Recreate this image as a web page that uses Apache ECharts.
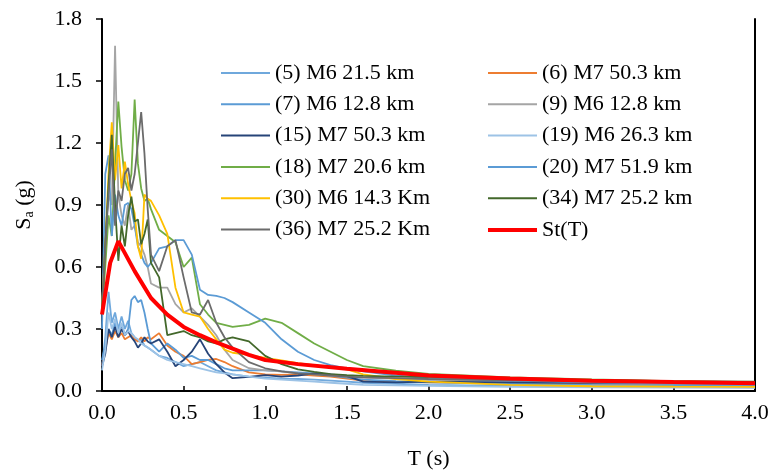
<!DOCTYPE html>
<html>
<head>
<meta charset="utf-8">
<script src="https://cdn.jsdelivr.net/npm/echarts@6/dist/echarts.min.js"></script>
<style>html,body{margin:0;padding:0;background:#fff}#c{width:774px;height:473px}</style>
</head>
<body>
<div id="c"></div>
<script>
const periods = [0.00,0.02,0.04,0.06,0.08,0.10,0.12,0.14,0.16,0.18,0.20,0.22,0.24,0.26,0.28,0.30,0.35,0.40,0.45,0.50,0.55,0.60,0.65,0.70,0.75,0.80,0.90,1.00,1.10,1.20,1.30,1.40,1.50,1.60,1.80,2.00,2.50,3.00,3.50,4.00];

const rec5  = [0.12,0.26,0.48,0.33,0.38,0.30,0.36,0.30,0.34,0.28,0.26,0.24,0.25,0.22,0.21,0.20,0.17,0.16,0.14,0.12,0.13,0.14,0.12,0.10,0.09,0.08,0.07,0.065,0.06,0.058,0.055,0.05,0.045,0.04,0.035,0.03,0.025,0.022,0.02,0.018];
const rec6  = [0.12,0.20,0.28,0.25,0.29,0.26,0.28,0.25,0.26,0.27,0.25,0.24,0.26,0.24,0.26,0.25,0.28,0.22,0.19,0.17,0.13,0.14,0.15,0.155,0.14,0.12,0.09,0.08,0.078,0.08,0.075,0.07,0.06,0.05,0.045,0.042,0.038,0.035,0.032,0.03];
const rec7  = [0.15,0.22,0.30,0.27,0.33,0.28,0.32,0.27,0.30,0.44,0.46,0.43,0.44,0.38,0.30,0.23,0.19,0.23,0.20,0.16,0.17,0.15,0.15,0.13,0.11,0.10,0.10,0.10,0.095,0.09,0.085,0.075,0.065,0.055,0.048,0.042,0.035,0.03,0.028,0.025];
const rec9  = [0.40,0.75,0.95,0.90,1.67,0.95,0.85,0.80,0.90,0.78,0.80,0.72,0.70,0.66,0.60,0.52,0.50,0.50,0.42,0.38,0.40,0.36,0.32,0.27,0.20,0.15,0.11,0.10,0.095,0.085,0.08,0.075,0.07,0.065,0.06,0.055,0.048,0.043,0.04,0.036];
const rec15 = [0.12,0.18,0.30,0.26,0.31,0.26,0.30,0.27,0.29,0.26,0.24,0.21,0.23,0.26,0.24,0.23,0.25,0.19,0.12,0.15,0.19,0.25,0.18,0.13,0.09,0.062,0.068,0.077,0.07,0.075,0.085,0.08,0.072,0.045,0.042,0.045,0.042,0.04,0.038,0.036];
const rec18 = [0.38,0.60,0.85,0.75,1.10,1.40,1.18,1.02,0.97,1.05,1.41,1.10,0.98,0.92,0.93,0.88,0.78,0.75,0.72,0.60,0.645,0.42,0.37,0.33,0.32,0.31,0.32,0.35,0.33,0.28,0.23,0.19,0.15,0.12,0.098,0.083,0.066,0.056,0.048,0.042];
const rec19 = [0.10,0.20,0.38,0.30,0.35,0.28,0.33,0.27,0.29,0.28,0.26,0.25,0.23,0.22,0.21,0.20,0.17,0.15,0.14,0.13,0.12,0.11,0.10,0.09,0.085,0.08,0.07,0.06,0.055,0.05,0.045,0.04,0.035,0.03,0.027,0.025,0.02,0.018,0.016,0.015];
const rec20 = [0.30,1.05,1.14,0.75,0.95,0.85,0.80,0.90,0.91,0.88,0.80,0.70,0.66,0.62,0.60,0.62,0.69,0.70,0.73,0.73,0.66,0.49,0.465,0.46,0.45,0.43,0.38,0.33,0.25,0.19,0.15,0.125,0.11,0.095,0.075,0.062,0.05,0.042,0.036,0.032];
const rec30 = [0.40,0.70,1.05,1.30,1.02,1.19,0.98,1.11,1.00,0.92,0.86,0.70,0.64,0.95,0.93,0.92,0.85,0.76,0.50,0.38,0.37,0.36,0.30,0.25,0.20,0.185,0.175,0.16,0.148,0.135,0.125,0.115,0.105,0.08,0.058,0.045,0.03,0.023,0.021,0.02];
const rec34 = [0.38,0.70,1.00,1.24,0.90,0.63,0.80,0.70,0.85,0.94,0.82,0.83,0.71,0.76,0.83,0.62,0.55,0.27,0.28,0.29,0.27,0.26,0.24,0.23,0.25,0.26,0.24,0.17,0.13,0.105,0.093,0.082,0.077,0.073,0.07,0.069,0.06,0.052,0.048,0.045];
const rec36 = [0.38,0.70,0.95,1.17,0.80,0.97,0.92,1.05,1.08,0.97,1.05,1.20,1.35,1.15,0.88,0.66,0.58,0.70,0.73,0.55,0.38,0.37,0.44,0.33,0.26,0.21,0.14,0.11,0.095,0.085,0.08,0.075,0.07,0.066,0.062,0.058,0.052,0.047,0.043,0.04];

const stPeriods = [0.00,0.05,0.10,0.20,0.30,0.40,0.50,0.60,0.70,0.80,0.90,1.00,1.20,1.50,2.00,2.50,3.00,3.50,4.00];
const stValues  = [0.37,0.62,0.725,0.58,0.45,0.37,0.31,0.27,0.235,0.205,0.175,0.15,0.13,0.108,0.075,0.06,0.05,0.043,0.037];

const recNames  = ['(5) M6 21.5 km','(6) M7 50.3 km','(7) M6 12.8 km','(9) M6 12.8 km','(15) M7 50.3 km','(18) M7 20.6 km','(19) M6 26.3 km','(20) M7 51.9 km','(30) M6 14.3 Km','(34) M7 25.2 km','(36) M7 25.2 Km'];
const recValues = [rec5, rec6, rec7, rec9, rec15, rec18, rec19, rec20, rec30, rec34, rec36];
const recColors = ['#6FA8DC','#ED7D31','#5B9BD5','#A5A5A5','#264478','#70AD47','#9DC3E6','#5B9BD5','#FFC000','#43682B','#6B6B6B'];
const stName = 'St(T)';

const xTicks = {min:0, max:4, interval:0.5};
const yTicks = {min:0, max:1.8, interval:0.3};

const legendLeft  = ['(5) M6 21.5 km','(7) M6 12.8 km','(15) M7 50.3 km','(18) M7 20.6 km','(30) M6 14.3 Km','(36) M7 25.2 Km'];
const legendRight = ['(6) M7 50.3 km','(9) M6 12.8 km','(19) M6 26.3 km','(20) M7 51.9 km','(34) M7 25.2 km'];

const FONT = 'Liberation Serif';
const FS = 22;
const chart = echarts.init(document.getElementById('c'), null, {renderer:'canvas'});

const series = recNames.map((n,i)=>({
  name:n, type:'line', symbol:'none', smooth:false,
  data: periods.map((t,j)=>[t, recValues[i][j]]),
  lineStyle:{color:recColors[i], width:1.8},
  itemStyle:{color:recColors[i]},
  z:2
}));
series.push({
  name:stName, type:'line', symbol:'none',
  data: stPeriods.map((t,j)=>[t, stValues[j]]),
  lineStyle:{color:'#FF0000', width:4},
  itemStyle:{color:'#FF0000'},
  z:3
});

const legendCommon = {
  orient:'vertical', icon:'rect', itemWidth:49, itemHeight:2, itemGap:9.3,
  textStyle:{fontFamily:FONT, fontSize:FS, color:'#000', lineHeight:22},
  selectedMode:false
};

chart.setOption({
  animation:false,
  backgroundColor:'#fff',
  grid:{left:102, right:19, top:19, bottom:82, containLabel:false, outerBoundsMode:'none'},
  legend:[
    Object.assign({}, legendCommon, {left:216, top:57, data:legendLeft}),
    Object.assign({}, legendCommon, {left:483, top:57, data:legendRight}),
    Object.assign({}, legendCommon, {left:483, top:214, itemHeight:4, data:[stName]})
  ],
  xAxis:{
    type:'value', min:xTicks.min, max:xTicks.max, interval:xTicks.interval,
    name:'T (s)', nameLocation:'middle', nameGap:57,
    nameTextStyle:{fontFamily:FONT, fontSize:FS, color:'#000'},
    axisLine:{lineStyle:{color:'#000', width:2}},
    axisTick:{inside:true, length:5, lineStyle:{color:'#000', width:1.5}},
    axisLabel:{fontFamily:FONT, fontSize:FS, color:'#000', margin:11, formatter:v=>v.toFixed(1)},
    splitLine:{show:false}
  },
  yAxis:[{
    type:'value', min:yTicks.min, max:yTicks.max, interval:yTicks.interval,
    name:'{s|S}{sub|a}{s| (g)}', nameLocation:'middle', nameGap:66, nameRotate:90,
    nameTextStyle:{fontFamily:FONT, fontSize:FS, color:'#000',
      rich:{s:{fontFamily:FONT, fontSize:FS, color:'#000'}, sub:{fontFamily:FONT, fontSize:14, color:'#000', padding:[10,0,0,0]}}},
    axisLine:{show:true, lineStyle:{color:'#000', width:2}},
    axisTick:{show:true, inside:false, length:6, lineStyle:{color:'#000', width:1.5}},
    axisLabel:{fontFamily:FONT, fontSize:FS, color:'#000', margin:20, formatter:v=>v.toFixed(1)},
    splitLine:{show:false}
  },{
    type:'value', position:'right', min:yTicks.min, max:yTicks.max, interval:yTicks.interval,
    axisLine:{show:true, lineStyle:{color:'#000', width:2}},
    axisTick:{show:false}, axisLabel:{show:false}, splitLine:{show:false}
  }],
  series: series
});
</script>
</body>
</html>
